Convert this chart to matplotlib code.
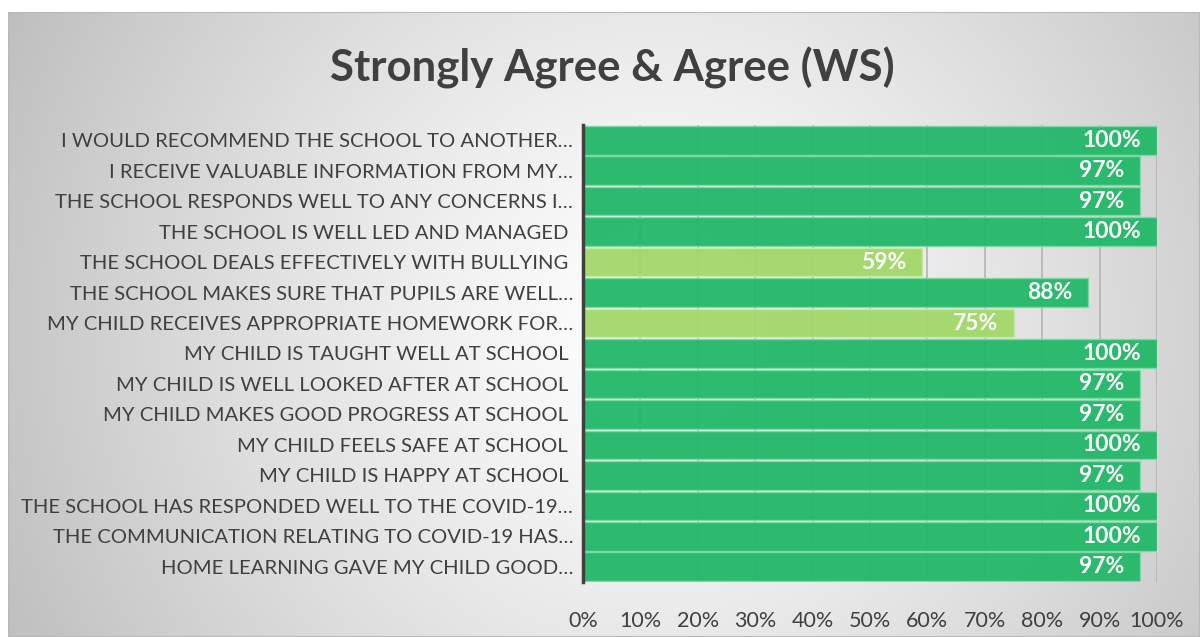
import numpy as np
import matplotlib
matplotlib.use("Agg")
import matplotlib.pyplot as plt
from matplotlib.patches import Rectangle

plt.rcParams['font.family'] = ['Lato', 'DejaVu Sans']

# Survey statements (top to bottom) and share answering Strongly Agree / Agree
statements = [
    "I WOULD RECOMMEND THE SCHOOL TO ANOTHER…",
    "I RECEIVE VALUABLE INFORMATION FROM MY…",
    "THE SCHOOL RESPONDS WELL TO ANY CONCERNS I…",
    "THE SCHOOL IS WELL LED AND MANAGED ",
    "THE SCHOOL DEALS EFFECTIVELY WITH BULLYING ",
    "THE SCHOOL MAKES SURE THAT PUPILS ARE WELL…",
    "MY CHILD RECEIVES APPROPRIATE HOMEWORK FOR…",
    "MY CHILD IS TAUGHT WELL AT SCHOOL ",
    "MY CHILD IS WELL LOOKED AFTER AT SCHOOL ",
    "MY CHILD MAKES GOOD PROGRESS AT SCHOOL ",
    "MY CHILD FEELS SAFE AT SCHOOL ",
    "MY CHILD IS HAPPY AT SCHOOL ",
    "THE SCHOOL HAS RESPONDED WELL TO THE COVID-19…",
    "THE COMMUNICATION RELATING TO COVID-19 HAS…",
    "HOME LEARNING GAVE MY CHILD GOOD…",
]
agree_pct = [100, 97, 97, 100, 59, 88, 75, 100, 97, 97, 100, 97, 100, 100, 97]
x_ticks = [0, 10, 20, 30, 40, 50, 60, 70, 80, 90, 100]
x_tick_labels = [f"{t}%" for t in x_ticks]

DARK_GREEN = "#25B96A"
LIGHT_GREEN = "#A3D86B"
TEXT = "#404040"

W, H = 1200, 637
fig = plt.figure(figsize=(W / 100, H / 100), dpi=100)
fig.patch.set_facecolor("white")

# Chart-area background: radial grey-to-white gradient inside a thin frame
x0, y0 = 8, 12
bg = fig.add_axes([x0 / W, 0, (W - x0) / W, (H - y0) / H])
bg.set_axis_off()
xx, yy = np.meshgrid(np.linspace(x0, W, 600), np.linspace(y0, H, 320))
cx, cy, r = 660, 330, 720
d = np.sqrt((xx - cx) ** 2 + (yy - cy) ** 2) / r
v = 1 - 0.25 * np.clip(d, 0, 1.2) ** 1.25
bg.imshow(np.dstack([v, v, v]), aspect="auto", extent=[0, 1, 0, 1],
          origin="upper", interpolation="bilinear")
bg.add_patch(Rectangle((0, 0), 1, 1, transform=bg.transAxes, fill=False,
                       edgecolor="#b8b8b8", linewidth=1.5))
bg.set_xlim(0, 1)
bg.set_ylim(0, 1)

# Main bar axes
left, right, top, bottom = 583, 1157, 125, 582
ax = fig.add_axes([left / W, 1 - bottom / H, (right - left) / W, (bottom - top) / H])
ax.set_facecolor("none")

n = len(statements)
ypos = np.arange(n)[::-1]
colors = [LIGHT_GREEN if p < 80 else DARK_GREEN for p in agree_pct]
edge = ["#c8eaa4" if c == LIGHT_GREEN else "#7fd8a4" for c in colors]
bars = ax.barh(ypos, agree_pct, height=0.94, color=colors, edgecolor=edge,
               linewidth=1.0, zorder=2, alpha=0.97)

for b, p in zip(bars, agree_pct):
    ax.text(p - 2.7, b.get_y() + b.get_height() / 2, f"{p}%", ha="right",
            va="center", color="white", fontsize=16.5, fontweight="bold", zorder=4)

ax.set_xlim(0, 100)
ax.set_ylim(-0.5, n - 0.5)
ax.set_xticks(x_ticks)
ax.set_xticklabels(x_tick_labels)
ax.set_yticks(ypos)
ax.set_yticklabels(statements)
ax.tick_params(axis="x", length=0, pad=21, labelsize=15.5, labelcolor=TEXT)
ax.tick_params(axis="y", length=0, pad=7, labelsize=14.6, labelcolor=TEXT)
ax.xaxis.grid(True, color="#b4b4b4", linewidth=1.2, zorder=1)
ax.set_axisbelow(True)
for s in ["top", "right", "bottom"]:
    ax.spines[s].set_visible(False)
ax.spines["left"].set_color("#404040")
ax.spines["left"].set_linewidth(2.5)
ax.spines["left"].set_zorder(5)

fig.text(612 / W, 1 - 68 / H, "Strongly Agree & Agree (WS)", ha="center",
         va="center", fontsize=31.5, fontweight="bold", color=TEXT)

fig.savefig("out.png", dpi=100)
